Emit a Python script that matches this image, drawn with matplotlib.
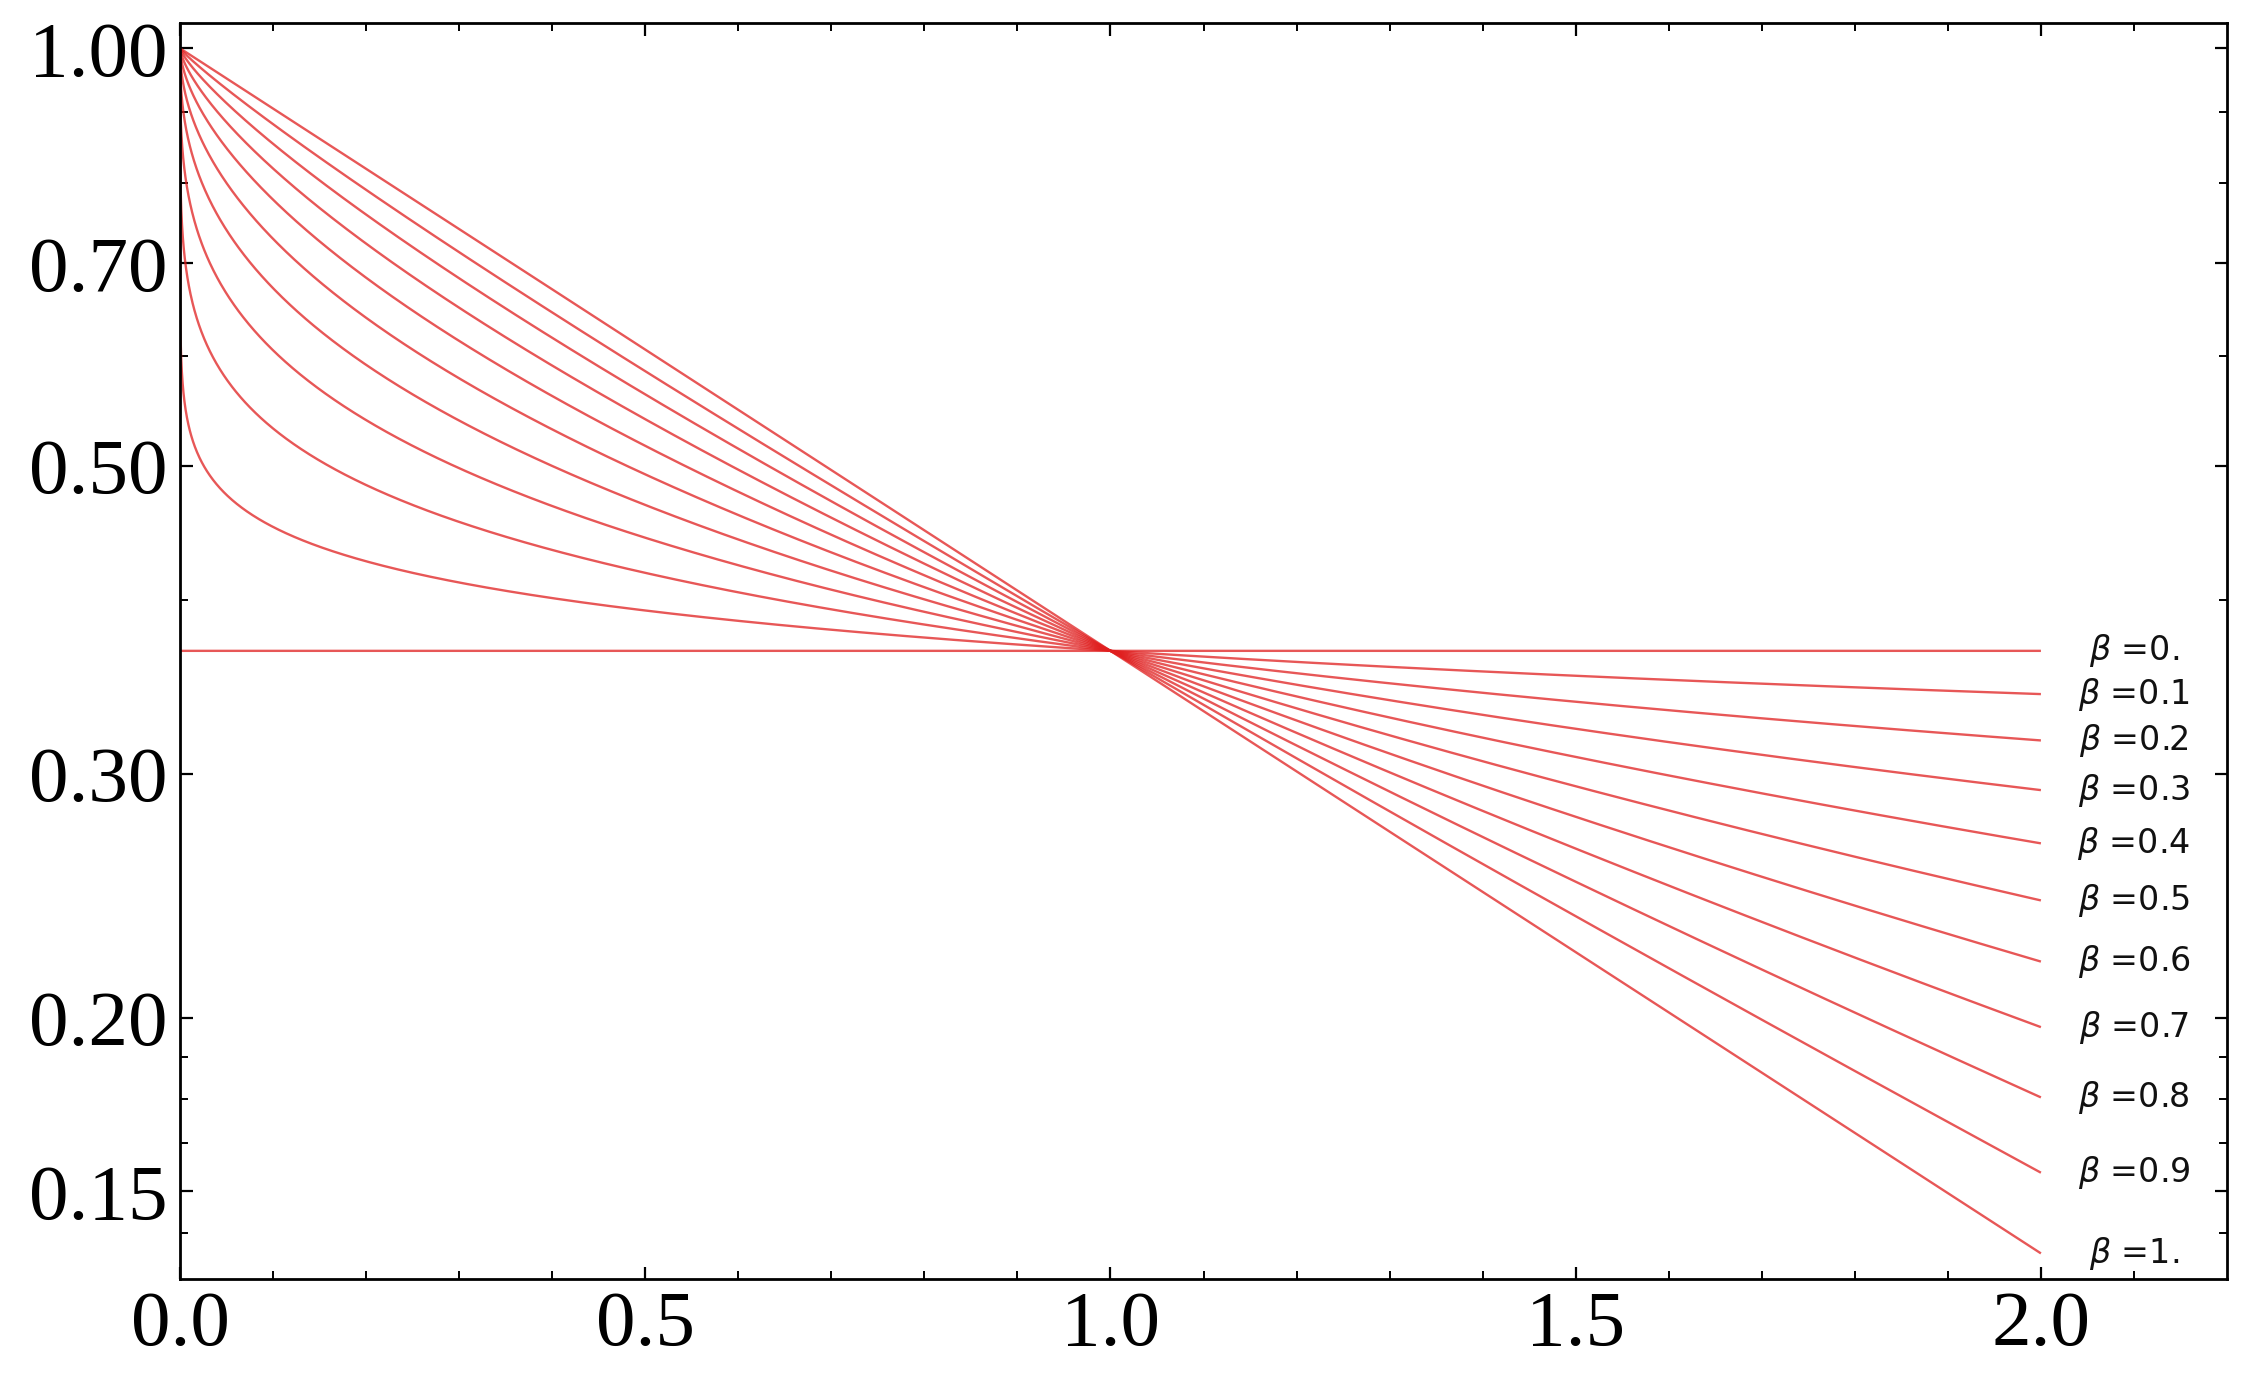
import numpy as np
import matplotlib
matplotlib.use("Agg")
import matplotlib.pyplot as plt
from matplotlib.ticker import FixedLocator, NullFormatter

# ---- data ----
betas = [0.0, 0.1, 0.2, 0.3, 0.4, 0.5, 0.6, 0.7, 0.8, 0.9, 1.0]
beta_labels = ["0.", "0.1", "0.2", "0.3", "0.4", "0.5", "0.6", "0.7", "0.8", "0.9", "1."]
x_major = [0.0, 0.5, 1.0, 1.5, 2.0]
x_major_labels = ["0.0", "0.5", "1.0", "1.5", "2.0"]
x_minor = [0.1, 0.2, 0.3, 0.4, 0.6, 0.7, 0.8, 0.9, 1.1, 1.2, 1.3, 1.4,
           1.6, 1.7, 1.8, 1.9, 2.1]
y_major = [0.15, 0.20, 0.30, 0.50, 0.70, 1.00]
y_major_labels = ["0.15", "0.20", "0.30", "0.50", "0.70", "1.00"]
y_minor = [0.9, 0.8, 0.6, 0.4, 0.1875, 0.175, 0.1625, 0.14]
x_max_curve = 2.0
label_x = 2.1

plt.rcParams['font.family'] = ['Liberation Serif', 'DejaVu Serif']

fig = plt.figure(figsize=(22.53, 13.91), dpi=100)
ax = fig.add_axes([180/2253, 1 - 1279/1391, (2227-180)/2253, (1279-22.7)/1391])

x = np.concatenate([[0.0], np.logspace(-60, np.log10(x_max_curve), 4000)])
x = np.unique(np.concatenate([x, np.linspace(0, x_max_curve, 2000)]))

line_color = (0.88, 0.12, 0.12)
for b, lab in zip(betas, beta_labels):
    y = np.exp(-np.power(x, b))
    ax.plot(x, y, color=line_color, lw=1.7, alpha=0.75, solid_capstyle='butt')
    yend = np.exp(-np.power(x_max_curve, b))
    ax.text(label_x, yend, r"$\beta$ =" + lab, ha='center', va='center',
            fontsize=24, family=['DejaVu Sans'], color='#111111')

ax.set_yscale('log')
ax.set_xlim(0, 2.2)
ax.set_ylim(np.exp(-2 - 0.0425), np.exp(0.0425))

ax.xaxis.set_major_locator(FixedLocator(x_major))
ax.set_xticklabels(x_major_labels)
ax.xaxis.set_minor_locator(FixedLocator(x_minor))
ax.yaxis.set_major_locator(FixedLocator(y_major))
ax.set_yticklabels(y_major_labels)
ax.yaxis.set_minor_locator(FixedLocator(y_minor))
ax.yaxis.set_minor_formatter(NullFormatter())

ax.tick_params(which='both', direction='in', top=True, right=True,
               labelsize=57, colors='black')
ax.tick_params(which='major', length=9, width=1.6)
ax.tick_params(which='minor', length=5.5, width=1.4)
ax.tick_params(axis='x', which='major', pad=8)
ax.tick_params(axis='y', which='major', pad=9)

for s in ax.spines.values():
    s.set_linewidth(2.0)
    s.set_color('black')

fig.savefig("out.png", dpi=100)
